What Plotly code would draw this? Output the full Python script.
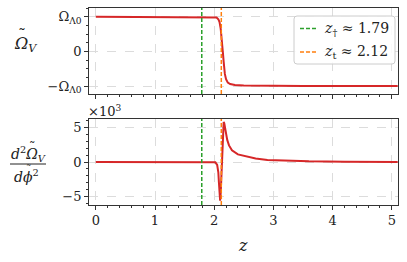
import plotly.graph_objects as go
from plotly.subplots import make_subplots

# ---- data ----
z_top = [0.0, 0.5, 1.0, 1.5, 1.8, 1.95, 2.00, 2.04, 2.07, 2.09, 2.11, 2.12, 2.13, 2.14,
         2.15, 2.16, 2.17, 2.18, 2.20, 2.23, 2.27, 2.35, 2.50, 2.80, 3.50, 4.50, 5.10]
omega_v = [1.0, 1.0, 1.0, 1.0, 1.0, 1.0, 1.0, 0.98, 0.93, 0.85, 0.65, 0.50, 0.30, 0.10,
           -0.10, -0.30, -0.50, -0.65, -0.80, -0.90, -0.94, -0.97, -0.985, -0.995, -1.0, -1.0, -1.0]

z_bot = [0.0, 0.5, 1.0, 1.5, 1.8, 2.00, 2.02, 2.05, 2.07, 2.08, 2.09, 2.10, 2.11, 2.12,
         2.13, 2.14, 2.15, 2.16, 2.17, 2.19, 2.22, 2.25, 2.30, 2.40, 2.55, 2.70, 2.90,
         3.20, 3.60, 4.20, 5.10]
d2omega_k = [0, 0, 0, 0, 0, 0, -0.05, -0.4, -1.5, -3.0, -4.8, -5.6, -4.5, -2.0,
             0.5, 3.0, 5.0, 5.8, 5.6, 4.5, 3.2, 2.4, 1.7, 1.1, 0.75, 0.5, 0.3,
             0.18, 0.1, 0.05, 0.02]

z_f = 1.79
z_t = 2.12

x_ticks = [0, 1, 2, 3, 4, 5]
top_tickvals = [-1, 0, 1]
top_ticktext = ["\u2212\u03a9<sub>\u039b0</sub>", "0", "\u03a9<sub>\u039b0</sub>"]
bot_tickvals = [-5, 0, 5]
bot_ticktext = ["\u22125", "0", "5"]

RED = "#d62728"
GREEN = "#2ca02c"
ORANGE = "#ff7f0e"
FONT = "DejaVu Serif"
W, H = 407, 262

fig = make_subplots(rows=2, cols=1, shared_xaxes=False)

fig.add_trace(go.Scatter(x=z_top, y=omega_v, mode="lines",
                         line=dict(color=RED, width=2), showlegend=False), row=1, col=1)
fig.add_trace(go.Scatter(x=z_bot, y=d2omega_k, mode="lines",
                         line=dict(color=RED, width=2), showlegend=False), row=2, col=1)

for r in (1, 2):
    fig.add_vline(x=z_f, line=dict(color=GREEN, width=1.5, dash="4px,2px"), row=r, col=1)
    fig.add_vline(x=z_t, line=dict(color=ORANGE, width=1.5, dash="4px,2px"), row=r, col=1)

axis_common = dict(
    showline=True, mirror=True, linecolor="#333", linewidth=1,
    ticks="outside", ticklen=4, tickcolor="#333", tickwidth=1,
    showgrid=True, gridcolor="#dcdcdc", griddash="dash", gridwidth=1,
    zeroline=False, tickfont=dict(family=FONT, size=13, color="#222"),
)

xr = [-0.113, 5.106]
fig.update_layout(
    width=W, height=H,
    margin=dict(l=0, r=0, t=0, b=0),
    paper_bgcolor="white", plot_bgcolor="white",
    font=dict(family=FONT, size=13, color="#222"),
    xaxis=dict(axis_common, domain=[0.219, 0.978], range=xr, tickvals=x_ticks,
               showticklabels=False,
               minor=dict(dtick=0.2, ticklen=2, tickcolor="#333", showgrid=False, ticks="outside")),
    yaxis=dict(axis_common, domain=[0.641, 0.969], range=[-1.23, 1.25],
               tickvals=top_tickvals, ticktext=top_ticktext,
               minor=dict(dtick=0.25, ticklen=2, tickcolor="#333", showgrid=False, ticks="outside")),
    xaxis2=dict(axis_common, domain=[0.219, 0.978], range=xr, tickvals=x_ticks,
                minor=dict(dtick=0.2, ticklen=2, tickcolor="#333", showgrid=False, ticks="outside")),
    yaxis2=dict(axis_common, domain=[0.218, 0.546], range=[-6.2, 6.23],
                tickvals=bot_tickvals, ticktext=bot_ticktext,
                minor=dict(dtick=1, ticklen=2, tickcolor="#333", showgrid=False, ticks="outside")),
)

def px(x):
    return x / W

def py(y):
    return 1 - y / H

ann = []
# axis labels (tilde drawn as a separate small glyph above the Omega / phi)
ann.append(dict(x=px(26), y=py(44), text="<i>\u03a9</i><sub><i>V</i></sub>", font=dict(size=16)))
ann.append(dict(x=px(22), y=py(35), text="\u02dc", font=dict(size=16)))
ann.append(dict(x=px(28), y=py(154), text="<i>d</i><sup>2</sup><i>\u03a9</i><sub><i>V</i></sub>",
                font=dict(size=14)))
ann.append(dict(x=px(32), y=py(146.5), text="\u02dc", font=dict(size=13)))
ann.append(dict(x=px(27), y=py(176), text="<i>d\u03d5</i><sup>2</sup>", font=dict(size=14)))
ann.append(dict(x=px(28.5), y=py(169), text="\u02dc", font=dict(size=11)))
ann.append(dict(x=px(104), y=py(111), text="\u00d710<sup>3</sup>", font=dict(size=13)))
ann.append(dict(x=px(243), y=py(245), text="<i>z</i>", font=dict(size=16)))
# legend text
ann.append(dict(x=px(322), y=py(28.5), text="<i>z</i><sub>\u2020</sub> \u2248 1.79",
                xanchor="left", font=dict(size=14)))
ann.append(dict(x=px(322), y=py(52), text="<i>z</i><sub>t</sub> \u2248 2.12",
                xanchor="left", font=dict(size=14)))
for a in ann:
    a.setdefault("xanchor", "center")
    a.update(xref="paper", yref="paper", yanchor="middle", showarrow=False)
    a["font"] = dict(family=FONT, color="#222", **a["font"])
fig.update_layout(annotations=ann)

# fraction bar
fig.add_shape(type="line", xref="paper", yref="paper",
              x0=px(10), x1=px(46), y0=py(164), y1=py(164),
              line=dict(color="#222", width=1))

# legend box (rounded)
x0, x1, y0, y1 = 294, 395, 16, 64
r = 3
path = (f"M {px(x0+r)},{py(y0)} L {px(x1-r)},{py(y0)} Q {px(x1)},{py(y0)} {px(x1)},{py(y0+r)} "
        f"L {px(x1)},{py(y1-r)} Q {px(x1)},{py(y1)} {px(x1-r)},{py(y1)} "
        f"L {px(x0+r)},{py(y1)} Q {px(x0)},{py(y1)} {px(x0)},{py(y1-r)} "
        f"L {px(x0)},{py(y0+r)} Q {px(x0)},{py(y0)} {px(x0+r)},{py(y0)} Z")
fig.add_shape(type="path", xref="paper", yref="paper", path=path,
              fillcolor="rgba(255,255,255,0.85)", line=dict(color="#cccccc", width=1))
for yy, col in ((28.5, GREEN), (52, ORANGE)):
    fig.add_shape(type="line", xref="paper", yref="paper",
                  x0=px(300), x1=px(317), y0=py(yy), y1=py(yy),
                  line=dict(color=col, width=1.5, dash="4px,2px"))

fig.write_html("out.html", config={"displayModeBar": False},
               post_script="document.body.style.margin='0px';document.body.style.padding='0px';")
